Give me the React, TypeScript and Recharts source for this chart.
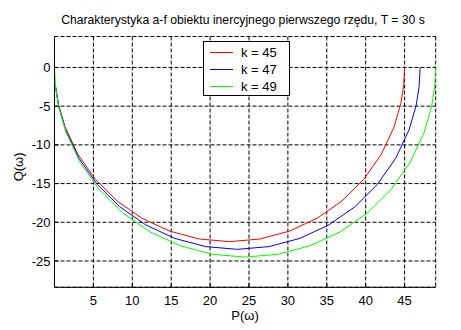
import { CartesianGrid, Line, LineChart, XAxis, YAxis } from "recharts";

const TITLE = "Charakterystyka a-f obiektu inercyjnego pierwszego rzędu, T = 30 s";
const X_TICKS = [5, 10, 15, 20, 25, 30, 35, 40, 45];
const Y_TICKS = [-25, -20, -15, -10, -5, 0];

// P(ω), Q(ω), from ω = 0 (right end) to large ω (left end)
const K45 = [
  { p: 45, q: 0 }, { p: 44.88, q: -2.35 }, { p: 44.51, q: -4.68 }, { p: 43.64, q: -7.7 },
  { p: 41.99, q: -11.25 }, { p: 39.74, q: -14.46 }, { p: 36.96, q: -17.24 }, { p: 33.75, q: -19.49 },
  { p: 30.2, q: -21.14 }, { p: 26.41, q: -22.16 }, { p: 22.5, q: -22.5 }, { p: 18.59, q: -22.16 },
  { p: 14.81, q: -21.14 }, { p: 11.25, q: -19.49 }, { p: 8.04, q: -17.24 }, { p: 5.27, q: -14.46 },
  { p: 3.02, q: -11.25 }, { p: 1.36, q: -7.7 }, { p: 0.49, q: -4.68 }, { p: 0.12, q: -2.35 },
];
const K47 = [
  { p: 47, q: 0 }, { p: 46.87, q: -2.46 }, { p: 46.49, q: -4.89 }, { p: 45.58, q: -8.04 },
  { p: 43.85, q: -11.75 }, { p: 41.5, q: -15.11 }, { p: 38.61, q: -18.0 }, { p: 35.25, q: -20.35 },
  { p: 31.54, q: -22.08 }, { p: 27.58, q: -23.14 }, { p: 23.5, q: -23.5 }, { p: 19.42, q: -23.14 },
  { p: 15.46, q: -22.08 }, { p: 11.75, q: -20.35 }, { p: 8.39, q: -18.0 }, { p: 5.5, q: -15.11 },
  { p: 3.15, q: -11.75 }, { p: 1.42, q: -8.04 }, { p: 0.52, q: -4.89 }, { p: 0.13, q: -2.46 },
];
const K49 = [
  { p: 49, q: 0 }, { p: 48.87, q: -2.56 }, { p: 48.46, q: -5.09 }, { p: 47.52, q: -8.38 },
  { p: 45.72, q: -12.25 }, { p: 43.27, q: -15.75 }, { p: 40.25, q: -18.77 }, { p: 36.75, q: -21.22 },
  { p: 32.88, q: -23.02 }, { p: 28.75, q: -24.13 }, { p: 24.5, q: -24.5 }, { p: 20.25, q: -24.13 },
  { p: 16.12, q: -23.02 }, { p: 12.25, q: -21.22 }, { p: 8.75, q: -18.77 }, { p: 5.73, q: -15.75 },
  { p: 3.28, q: -12.25 }, { p: 1.48, q: -8.38 }, { p: 0.54, q: -5.09 }, { p: 0.14, q: -2.56 },
  { p: 0, q: -0.1 },
];

const SERIES = [
  { name: "k = 45", color: "#ff0000", data: K45 },
  { name: "k = 47", color: "#0000ff", data: K47 },
  { name: "k = 49", color: "#00ff00", data: K49 },
];

const FONT = '"Liberation Sans", Arial, sans-serif';

function YLabel({ viewBox }: any) {
  const x = viewBox.x + 23;
  const y = viewBox.y + viewBox.height / 2 + 5;
  return (
    <text x={x} y={y} transform={`rotate(-90 ${x} ${y})`} textAnchor="middle" fontSize={13} fill="#000" fontFamily={FONT}>
      Q(ω)
    </text>
  );
}

export default function App() {
  return (
    <div style={{ position: "absolute", left: 0, top: 0, width: 461, height: 330, background: "#fff", fontFamily: FONT }}>
      <LineChart width={461} height={330} margin={{ top: 36.5, right: 25.3, bottom: 0, left: 0 }}>
        <CartesianGrid stroke="#000" strokeDasharray="4 2" strokeWidth={1} />
        <XAxis
          type="number"
          dataKey="p"
          domain={[0, 49]}
          ticks={X_TICKS}
          allowDataOverflow
          height={42.7}
          axisLine={{ stroke: "#000" }}
          tickLine={{ stroke: "#000" }}
          tickSize={-4}
          tickMargin={12}
          tick={{ fill: "#000", fontSize: 13, fontFamily: FONT }}
          label={{ value: "P(ω)", position: "insideBottom", offset: 10, fill: "#000", fontSize: 13, fontFamily: FONT }}
        />
        <YAxis
          type="number"
          domain={[-28.4, 4]}
          ticks={Y_TICKS}
          allowDataOverflow
          width={54.5}
          axisLine={{ stroke: "#000" }}
          tickLine={{ stroke: "#000" }}
          tickSize={-4}
          tickMargin={8}
          tick={{ fill: "#000", fontSize: 13, fontFamily: FONT }}
          label={<YLabel />}
        />
        {SERIES.map((s) => (
          <Line
            key={s.name}
            data={s.data}
            dataKey="q"
            name={s.name}
            stroke={s.color}
            strokeWidth={1}
            dot={false}
            isAnimationActive={false}
          />
        ))}
      </LineChart>
      <div style={{ position: "absolute", left: 0, width: 486, top: 13, textAlign: "center", fontSize: 12.2, whiteSpace: "nowrap" }}>
        {TITLE}
      </div>
      <div
        style={{
          position: "absolute",
          left: 203,
          top: 41,
          width: 85,
          height: 53,
          border: "1px solid #000",
          background: "#fff",
          fontSize: 13,
        }}
      >
        {SERIES.map((s, i) => (
          <div key={s.name} style={{ position: "absolute", left: 0, top: 2 + i * 17, height: 17, display: "flex", alignItems: "center" }}>
            <span style={{ display: "inline-block", marginLeft: 6, width: 23, height: 1, background: s.color }} />
            <span style={{ marginLeft: 8 }}>{s.name}</span>
          </div>
        ))}
      </div>
    </div>
  );
}
